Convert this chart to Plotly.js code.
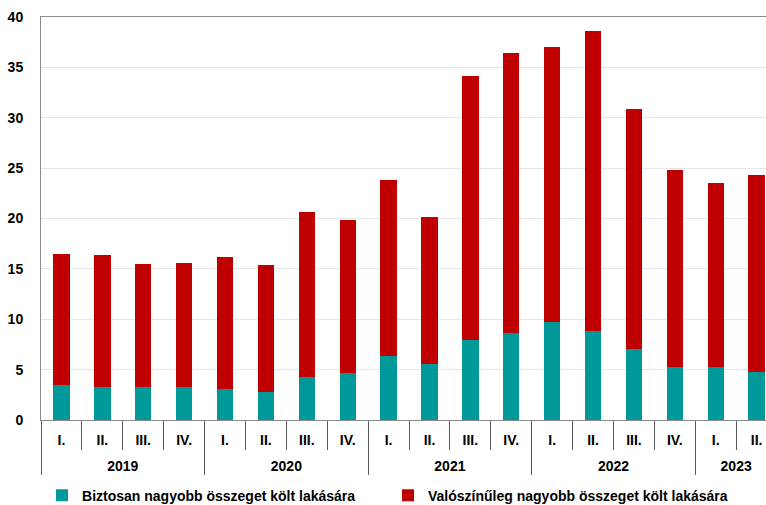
<!DOCTYPE html>
<html>
<head>
<meta charset="utf-8">
<script src="https://cdn.plot.ly/plotly-3.0.1.min.js"></script>
<style>
html,body{margin:0;padding:0;background:#fff;overflow:hidden;}
#chart{width:766px;height:505px;}
</style>
</head>
<body>
<div id="chart"></div>
<script>
const years = ["2019","2019","2019","2019","2020","2020","2020","2020","2021","2021","2021","2021","2022","2022","2022","2022","2023","2023"];
const quarters = ["I.","II.","III.","IV.","I.","II.","III.","IV.","I.","II.","III.","IV.","I.","II.","III.","IV.","I.","II."];
const certain = [3.48,3.28,3.28,3.28,3.05,2.81,4.24,4.64,6.36,5.56,7.95,8.68,9.77,8.84,7.05,5.26,5.26,4.74];
const probable = [13.01,13.14,12.25,12.35,13.11,12.62,16.42,15.23,17.51,14.61,26.22,27.78,27.28,29.80,23.78,19.51,18.28,19.60];
const seriesNames = ["Biztosan nagyobb összeget költ lakására","Valószínűleg nagyobb összeget költ lakására"];

const FONT = "'Liberation Sans', Arial, sans-serif";

// an invisible tiny second line under each quarter label leaves room between the two label rows
const quarterLabels = quarters.map(q => q + "<br><span style='font-size:1px'>\u00a0</span>");

const traces = [
  {type:'bar', name:seriesNames[0], x:[years, quarterLabels], y:certain, marker:{color:'#009999'}, hoverinfo:'y'},
  {type:'bar', name:seriesNames[1], x:[years, quarterLabels], y:probable, marker:{color:'#C00000'}, hoverinfo:'y'}
];

const layout = {
  width:766, height:505,
  margin:{l:41, r:0, t:17, b:85, autoexpand:false},
  paper_bgcolor:'#fff', plot_bgcolor:'#fff',
  barmode:'stack', bargap:0.6,
  font:{family:FONT, size:14, color:'#000'},
  xaxis:{
    type:'multicategory',
    range:[-0.5, 17.23],
    showline:true, linecolor:'#8c8c8c', linewidth:1, mirror:true,
    ticks:'outside', tickson:'boundaries', ticklen:29, tickcolor:'#595959', tickwidth:1,
    showdividers:true, dividercolor:'#595959', dividerwidth:1,
    ticklabelstandoff:7,
    tickfont:{family:FONT, size:14, color:'#000', weight:'bold'},
    showgrid:false, zeroline:false
  },
  yaxis:{
    range:[0,40], dtick:5, tick0:0,
    showline:true, linecolor:'#8c8c8c', linewidth:1,
    showgrid:true, gridcolor:'#e6e6e6', gridwidth:1,
    zeroline:false,
    ticks:'', ticklabelstandoff:14,
    tickfont:{family:FONT, size:14, color:'#000', weight:'bold'}
  },
  showlegend:true,
  legend:{
    orientation:'h', x:0.0014, xanchor:'left', y:-0.188, yanchor:'middle',
    font:{family:FONT, size:14, color:'#000', weight:'bold'},
    traceorder:'normal', entrywidth:301, entrywidthmode:'pixels',
    itemwidth:30, bgcolor:'rgba(0,0,0,0)'
  }
};

Plotly.newPlot('chart', traces, layout, {displayModeBar:false, staticPlot:true});
</script>
</body>
</html>
